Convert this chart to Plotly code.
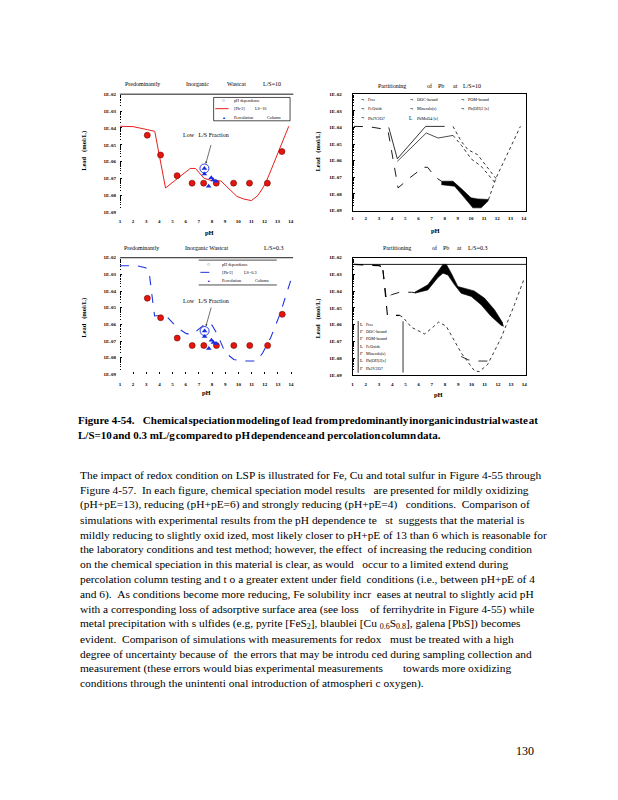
import re
import math
import plotly.graph_objects as go

# ---------------- data ----------------
ph_ticks = [1, 2, 3, 4, 5, 6, 7, 8, 9, 10, 11, 12, 13, 14]
ytick_vals = [1e-2, 1e-3, 1e-4, 1e-5, 1e-6, 1e-7, 1e-8, 1e-9]
ytick_text = ["1E-02", "1E-03", "1E-04", "1E-05", "1E-06", "1E-07", "1E-08", "1E-09"]

# pH dependence test (red circles) - same data in both left panels
ph_dep_ph = [3.08, 4.09, 5.35, 6.49, 7.37, 8.33, 9.65, 10.86, 12.22, 13.33]
ph_dep_pb = [3.7e-5, 2.5e-6, 1.5e-7, 5.4e-8, 5.4e-8, 5.4e-8, 5.4e-8, 5.4e-8, 5.4e-8, 4.0e-6]

# percolation column (blue triangles)
perc_ph = [7.43, 7.43, 7.95, 8.10, 8.30, 7.75]
perc_pb = [4.0e-7, 1.9e-7, 1.12e-7, 8.3e-8, 7.1e-8, 3.6e-8]

# low L/S fraction (circled point)
low_ls_ph = [7.43]
low_ls_pb = [4.0e-7]

# model [Pb+2] at L/S=10 (red line)
model10_ph = [1.0, 2.0, 3.1, 3.65, 4.47, 5.4, 6.35, 6.75, 7.4, 8.0, 8.7, 9.3, 9.9, 10.4, 11.0, 11.5,
              12.05, 12.5, 12.95, 13.4, 13.85]
model10_pb = [1.26e-4, 1.2e-4, 7.9e-5, 6.3e-5, 2.8e-8, 1.0e-7, 4.0e-7, 4.0e-7, 1.05e-7, 7.6e-8, 7.2e-8,
              2.5e-8, 8.9e-9, 6.3e-9, 5.0e-9, 1.0e-8, 4.7e-8, 3.2e-7, 2.5e-6, 1.6e-5, 1.26e-4]

# model [Pb+2] at L/S=0.3 (blue dashed line)
model03_ph = [1.0, 2.3, 2.95, 3.2, 3.37, 3.63, 4.08, 4.55, 5.35, 6.05, 6.5, 7.0, 7.55, 8.0, 8.4, 9.0,
              9.65, 10.3, 11.4, 11.85, 12.45, 13.15, 14.1]
model03_pb = [3.3e-3, 3.3e-3, 2.5e-3, 1.8e-3, 1.4e-4, 3.2e-6, 3.5e-6, 3.0e-6, 6.3e-7, 2.8e-7, 2.5e-7,
              5.0e-7, 1.2e-6, 8.9e-7, 2.5e-7, 2.0e-8, 7.9e-9, 6.3e-9, 6.3e-9, 2.0e-8, 1.6e-7, 4.0e-6, 8.9e-4]

# partitioning of Pb at L/S=10
p2_low_ph = [1.1, 2.2, 3.2, 3.7, 4.46, 5.4, 6.4, 6.7, 7.3, 7.75]
p2_low_pb = [1.15e-4, 1.12e-4, 8.3e-5, 5.8e-5, 2.3e-8, 1.0e-7, 4.0e-7, 4.0e-7, 1.0e-7, 5.8e-8]
p2_bandtop_ph = [7.75, 8.63, 9.3, 10.0, 10.5, 11.0, 11.33]
p2_bandtop_pb = [5.8e-8, 5.8e-8, 1.95e-8, 5.8e-9, 5.0e-9, 4.7e-9, 4.6e-9]
p2_bandbot_ph = [7.75, 8.63, 8.75, 9.3, 10.14, 10.77, 11.28, 11.33]
p2_bandbot_pb = [3.6e-8, 2.9e-8, 2.9e-8, 9.1e-9, 1.45e-9, 1.45e-9, 3.6e-9, 4.6e-9]
p2_right_ph = [11.33, 11.9, 12.8, 13.75]
p2_right_pb = [4.6e-9, 9.1e-8, 2.9e-6, 1.15e-4]
p2_top_ph = [3.75, 4.4, 6.55, 8.0]
p2_top_pb = [1.0e-4, 1.3e-6, 1.15e-4, 1.15e-4]
p2_topdot_ph = [8.63, 9.26, 9.76, 10.5, 11.28, 11.9]
p2_topdot_pb = [1.15e-4, 1.45e-5, 4.6e-6, 2.3e-6, 3.6e-7, 8.3e-8]
p2_mid_ph = [4.4, 6.6, 7.5, 8.63]
p2_mid_pb = [9.1e-7, 4.6e-5, 2.3e-5, 3.3e-5]
p2_middot_ph = [8.63, 9.3, 10.0, 10.77, 11.8]
p2_middot_pb = [3.3e-5, 7.9e-6, 1.3e-6, 4.6e-7, 5.0e-8]

# partitioning of Pb at L/S=0.3
p4_flat_ph = [1.0, 14.15]
p4_flat_pb = [4.0e-3, 4.0e-3]
p4_topdash_ph = [1.13, 2.0, 3.06, 3.3]
p4_topdash_pb = [4.0e-3, 3.8e-3, 3.4e-3, 1.8e-3]
p4_mid_ph = [3.3, 3.45, 3.56, 3.94, 4.57, 5.45, 5.7]
p4_mid_pb = [1.8e-3, 2.5e-4, 3.1e-5, 6.2e-5, 8.7e-5, 8.7e-5, 8.3e-5]
p4_bandtop_ph = [5.7, 6.7, 7.46, 7.84, 8.1, 8.47, 8.97, 9.47, 10.2, 10.98, 11.74, 12.37]
p4_bandtop_pb = [8.7e-5, 2.4e-4, 1.5e-3, 4.0e-3, 4.0e-3, 1.2e-3, 1.9e-4, 1.5e-4, 1.05e-4, 3.9e-5, 7.9e-6, 1.26e-6]
p4_bandbot_ph = [5.7, 6.7, 7.46, 7.84, 8.22, 8.72, 9.22, 9.98, 10.73, 11.48, 12.24, 12.44]
p4_bandbot_pb = [7.6e-5, 1.2e-4, 6.5e-4, 1.2e-3, 9.3e-4, 2.4e-4, 7.6e-5, 4.9e-5, 1.55e-5, 3.2e-6, 9.3e-7, 8.1e-7]
p4_lowdash_ph = [3.3, 3.5, 3.64, 4.57]
p4_lowdash_pb = [1.8e-3, 5.0e-5, 3.6e-6, 3.6e-6]
p4_low_ph = [4.57, 4.82, 5.45, 6.46, 7.08, 7.51, 8.09, 9.22, 10.23, 10.6, 11.23, 12.24, 13.25, 14.0]
p4_low_pb = [3.6e-6, 2.75e-6, 7.1e-7, 2.8e-7, 7.1e-7, 1.45e-6, 8.1e-7, 2.1e-8, 1.74e-9, 1.6e-9, 4.3e-9,
             1.6e-7, 1.55e-5, 5.9e-4]
p4_low2_ph = [9.22, 9.8, 10.5, 11.36]
p4_low2_pb = [1.26e-8, 7.9e-9, 6.8e-9, 6.8e-9]
p4_vline_ph = [4.82, 4.82]
p4_vline_pb = [1.6e-6, 1.4e-9]

partition_legend = ["Free", "DOC-bound", "POM-bound", "FeOxide", "Minerals(s)", "Pb(OH)2 [s]",
                    "Pb2V2O7", "PbMoO4 [s]"]
partition_legend4 = ["Free", "DOC-bound", "POM-bound", "FeOxide", "Minerals(s)", "Pb(OH)2[s]",
                     "Pb2V2O7"]

HS = "\u200a"  # hair space where the reference runs words together
caption_lines = [
    "Figure 4\u201154.   Chemical" + HS + "speciation" + HS + "modeling" + HS + "of lead from" + HS
    + "predominantly" + HS + "inorganic" + HS + "industrial" + HS + "waste" + HS + "at",
    "L/S=10" + HS + "and 0.3 mL/g" + HS + "compared" + HS + "to pH" + HS + "dependence" + HS
    + "and percolation" + HS + "column" + HS + "data.",
]
para_lines = [
    "The impact of redox condition on LSP is illustrated for Fe, Cu and total sulfur in Figure 4\u201155 through",
    "Figure 4\u201157.  In each figure, chemical speciation model results   are presented for mildly oxidizing",
    "(pH+pE=13), reducing (pH+pE=6) and strongly reducing (pH+pE=4)   conditions.  Comparison of",
    "simulations with experimental results from the pH dependence te   st  suggests that the material is",
    "mildly reducing to slightly oxid ized, most likely closer to pH+pE of 13 than 6 which is reasonable for",
    "the laboratory conditions and test method; however, the effect  of increasing the reducing condition",
    "on the chemical speciation in this material is clear, as would   occur to a limited extend during",
    "percolation column testing and t o a greater extent under field  conditions (i.e., between pH+pE of 4",
    "and 6).  As conditions become more reducing, Fe solubility incr  eases at neutral to slightly acid pH",
    "with a corresponding loss of adsorptive surface area (see loss    of ferrihydrite in Figure 4\u201155) while",
    "metal precipitation with s ulfides (e.g, pyrite [FeS<sub>2</sub>], blaublei [Cu <sub>0.6</sub>S<sub>0.8</sub>], galena [PbS]) becomes",
    "evident.  Comparison of simulations with measurements for redox   must be treated with a high",
    "degree of uncertainty because of  the errors that may be introdu ced during sampling collection and",
    "measurement (these errors would bias experimental measurements       towards more oxidizing",
    "conditions through the unintenti onal introduction of atmospheri c oxygen).",
]

# ---------------- helpers ----------------
OFF = 8                      # page body margin of the html page
W, H = 618 - OFF, 800 - OFF  # figure size so it fits in the window
SERIF = "Liberation Serif"
RED = "#e8140e"
BLUE = "#1a2ee0"


def fx(p):
    return (p - OFF) / W


def fy(p):
    return 1 - (p - OFF) / H


def nb(s):
    return re.sub(r" {2,}", lambda m: "\u00a0" * len(m.group()), s)


fig = go.Figure()


def line(xs, ys, ax, color="black", width=0.8, dash="solid", fill=None, fillcolor=None):
    fig.add_trace(go.Scatter(x=xs, y=ys, mode="lines", xaxis="x" + ax, yaxis="y" + ax,
                             line=dict(color=color, width=width, dash=dash),
                             fill=fill, fillcolor=fillcolor, showlegend=False, hoverinfo="skip"))


def markers(xs, ys, ax, **mk):
    fig.add_trace(go.Scatter(x=xs, y=ys, mode="markers", xaxis="x" + ax, yaxis="y" + ax,
                             marker=mk, showlegend=False, hoverinfo="skip"))


# ---- panel 1 (L/S=10) ----
line(model10_ph, model10_pb, "", color="#e4201c", width=1.0)
markers(ph_dep_ph, ph_dep_pb, "", symbol="circle", size=6, color=RED, line=dict(color="#6a0806", width=0.6))
markers(perc_ph, perc_pb, "", symbol="triangle-up", size=5, color=BLUE, line=dict(width=0))
markers(low_ls_ph, low_ls_pb, "", symbol="circle-open", size=9, color=BLUE, line=dict(width=0.9))

# ---- panel 3 (L/S=0.3) ----
line(model03_ph, model03_pb, "3", color="#1f33e0", width=1.1, dash="dash")
markers(ph_dep_ph, ph_dep_pb, "3", symbol="circle", size=6, color=RED, line=dict(color="#6a0806", width=0.6))
markers(perc_ph, perc_pb, "3", symbol="triangle-up", size=5, color=BLUE, line=dict(width=0))
markers(low_ls_ph, low_ls_pb, "3", symbol="circle-open", size=9, color=BLUE, line=dict(width=0.9))

# ---- panel 2 (partitioning L/S=10) ----
line(p2_low_ph, p2_low_pb, "2", width=0.9, dash="dash")
line(p2_bandtop_ph, p2_bandtop_pb, "2", width=0.6)
line(p2_bandbot_ph, p2_bandbot_pb, "2", width=0.6, fill="tonexty", fillcolor="black")
line(p2_right_ph, p2_right_pb, "2", width=0.8, dash="dot")
line(p2_top_ph, p2_top_pb, "2", width=0.8)
line(p2_topdot_ph, p2_topdot_pb, "2", width=0.8, dash="dot")
line(p2_mid_ph, p2_mid_pb, "2", width=0.7)
line(p2_middot_ph, p2_middot_pb, "2", width=0.8, dash="dot")

# ---- panel 4 (partitioning L/S=0.3) ----
line(p4_flat_ph, p4_flat_pb, "4", width=0.9)
line(p4_topdash_ph, p4_topdash_pb, "4", width=1.3, dash="dash")
line(p4_mid_ph, p4_mid_pb, "4", width=0.9, dash="dash")
line(p4_bandtop_ph, p4_bandtop_pb, "4", width=0.6)
line(p4_bandbot_ph, p4_bandbot_pb, "4", width=0.6, fill="tonexty", fillcolor="black")
line(p4_lowdash_ph, p4_lowdash_pb, "4", width=1.1, dash="dash")
line(p4_low_ph, p4_low_pb, "4", width=0.8, dash="dot")
line(p4_low2_ph, p4_low2_pb, "4", width=0.8, dash="dash")
line(p4_vline_ph, p4_vline_pb, "4", width=0.8)

# ---------------- axes ----------------
tickfont = dict(family=SERIF, size=5, color="black", weight="bold")
minor_vals = [m * 10 ** e for e in range(-9, -2) for m in range(2, 10)]


def xax(x0, x1, rng, anchor, box=False, standoff=4, ticks=""):
    return dict(domain=[fx(x0), fx(x1)], range=rng, anchor=anchor, showgrid=False, zeroline=False,
                tickmode="array", tickvals=ph_ticks, tickfont=tickfont, ticks=ticks, ticklen=2,
                tickwidth=0.6, tickcolor="black",
                showline=box, mirror=box, linecolor="black", linewidth=0.8,
                ticklabelstandoff=standoff, fixedrange=True)


def yax(y0, y1, anchor, box=False, standoff=3):
    return dict(domain=[fy(y1), fy(y0)], type="log", range=[-9, -2], anchor=anchor, showgrid=False,
                zeroline=False, tickmode="array", tickvals=ytick_vals, ticktext=ytick_text,
                tickfont=tickfont, ticks="inside", ticklen=2.5, tickwidth=0.7, tickcolor="black",
                minor=dict(tickmode="array", tickvals=minor_vals, ticks="inside", ticklen=1.5,
                           tickwidth=0.6, tickcolor="black", showgrid=False),
                showline=box, mirror=box, linecolor="black", linewidth=0.8,
                ticklabelstandoff=standoff, fixedrange=True)


fig.update_layout(
    width=W, height=H, margin=dict(l=0, r=0, t=0, b=0),
    paper_bgcolor="white", plot_bgcolor="rgba(0,0,0,0)", showlegend=False,
    xaxis=xax(119.3, 293.3, [1, 14.2], "y", standoff=5),
    yaxis=yax(92.7, 211.7, "x", standoff=3),
    xaxis2=xax(352.7, 527, [1, 14.2], "y2", box=True, standoff=3),
    yaxis2=yax(92.7, 209.8, "x2", box=True, standoff=9),
    xaxis3=xax(119.3, 293, [1, 14.15], "y3", standoff=6, ticks="inside"),
    yaxis3=yax(257.3, 374.7, "x3", standoff=3),
    xaxis4=xax(352.7, 527, [1, 14.15], "y4", box=True, standoff=4),
    yaxis4=yax(257.3, 375.3, "x4", box=True, standoff=9),
)

shapes = []
ann = []


def text(x, y, s, size=5, anchor="left", bold=False, color="black", angle=0, yanchor="middle"):
    ann.append(dict(xref="paper", yref="paper", x=fx(x), y=fy(y), text=nb(s), showarrow=False,
                    xanchor=anchor, yanchor=yanchor, textangle=angle,
                    font=dict(family=SERIF, size=size, color=color, weight="bold" if bold else "normal")))


def hline(x0, x1, y, width=0.8, color="black", dash="solid"):
    shapes.append(dict(type="line", xref="paper", yref="paper", x0=fx(x0), x1=fx(x1), y0=fy(y), y1=fy(y),
                       line=dict(color=color, width=width, dash=dash)))


def vline(x, y0, y1, width=0.8):
    shapes.append(dict(type="line", xref="paper", yref="paper", x0=fx(x), x1=fx(x), y0=fy(y0), y1=fy(y1),
                       line=dict(color="black", width=width)))


# top border lines of the left panels
for ax in ["", "3"]:
    shapes.append(dict(type="line", xref="x" + ax + " domain", yref="y" + ax + " domain",
                       x0=0, x1=1, y0=1, y1=1, line=dict(color="black", width=0.9)))

# panel titles
for w, x in [("Predominantly", 122.7), ("Inorganic", 184), ("Wastcat", 225), ("L/S=10", 261)]:
    text(x, 82.7, w, size=6)
for w, x in [("Predominantly", 121.7), ("Inorganic Wastcat", 183), ("L/S=0.3", 261.7)]:
    text(x, 248, w, size=6)
for w, x in [("Partitioning", 376.7), ("of", 425), ("Pb", 436.7), ("at", 451.7), ("L/S=10", 461.7)]:
    text(x, 84.3, w, size=6)
for w, x in [("Partitioning", 381.7), ("of", 430), ("Pb", 441), ("at", 455), ("L/S=0.3", 466.7)]:
    text(x, 248, w, size=6)

# axis titles
text(209, 231.5, "pH", size=6.5, anchor="center", bold=True)
text(436, 230, "pH", size=6.5, anchor="center", bold=True)
text(206, 393, "pH", size=6.5, anchor="center", bold=True)
text(439, 394.7, "pH", size=6.5, anchor="center", bold=True)
for x, y in [(83, 150), (318.5, 150), (83, 318), (318.5, 318)]:
    text(x, y, "Lead   (mol/L)", size=6.5, anchor="center", bold=True, angle=-90)

# panel 1 legend
shapes.append(dict(type="rect", xref="paper", yref="paper", x0=fx(213.3), x1=fx(290), y0=fy(96), y1=fy(119.5),
                   line=dict(color="black", width=0.7)))
text(223.3, 99.3, "\u25cb", size=5, anchor="center")
text(231.7, 99.3, "pH dependence", size=4.2)
hline(215, 228.3, 107.3, width=1.0, color="#e4201c")
text(231.7, 107.3, "[Pb-2]", size=4.2)
text(253, 107.3, "LS=10", size=4.2)
text(224, 116, "\u25b2", size=4, anchor="center", color=BLUE)
text(231.7, 116, "Percolation", size=4.2)
text(265, 116, "Column", size=4.2)

# panel 3 legend
hline(198.3, 276.7, 259.7, width=0.7)
hline(198.3, 276.7, 284.7, width=0.7)
text(208.3, 264, "\u25cb", size=5, anchor="center")
text(219.3, 264, "pH dependence", size=4.2)
hline(200, 216.7, 272, width=1.0, color="#1f33e0", dash="dash")
text(219.3, 272, "[Pb-2]", size=4.2)
text(241.7, 272, "LS=0.3", size=4.2)
text(208.3, 280.7, "\u25b2", size=3.5, anchor="center", color=BLUE)
text(219.3, 280.7, "Percolation", size=4.2)
text(252.7, 280.7, "Column", size=4.2)

# panel 2 legend (3 columns)
icons2 = ["\u00ac", "\u00ac", "\u00ac", "\u00ac", "\u00ac", "\u00ac", "\u00ac", "L"]
cols2 = [362.3, 411.7, 463.3]
rows2 = [98.3, 107.3, 116.7]
for i, name in enumerate(partition_legend):
    cx, ry = cols2[i % 3], rows2[i // 3]
    text(cx, ry, icons2[i], size=5.5, anchor="center")
    text(cx + 3.5, ry, name, size=4.2)

# panel 4 legend (column)
icons4 = ["L", "\u0393", "\u0393", "L", "\u0393", "L", "\u0393"]
rows4 = [324, 331.4, 338.8, 346.2, 353.6, 361.0, 368.4]
vline(358.3, 321, 373, width=0.8)
for i, name in enumerate(partition_legend4):
    text(361.7, rows4[i], icons4[i], size=5, anchor="center")
    text(364.5, rows4[i], name, size=4.2)

# Low L/S fraction call-outs
for ax, ty in [("", 134), ("3", 301)]:
    text(205.5, ty, "Low   L/S Fraction", size=6, anchor="center")
    ann.append(dict(xref="x" + ax, yref="y" + ax, x=low_ls_ph[0], y=math.log10(low_ls_pb[0]),
                    ax=7, ay=-25, axref="pixel", ayref="pixel", showarrow=True, arrowhead=2,
                    arrowsize=0.6, arrowwidth=0.7, arrowcolor="#333", standoff=5, text=""))

# caption
for i, s in enumerate(caption_lines):
    text(75.5, 421 + 14.7 * i, s, size=11, bold=True)

# paragraph
for i, s in enumerate(para_lines):
    text(77, 476 + 14.98 * i, s, size=11.4)

# page number
text(525.5, 754, "130", size=12, anchor="center")

fig.update_layout(shapes=shapes, annotations=ann)
fig.write_html("out.html", config={"displayModeBar": False})
